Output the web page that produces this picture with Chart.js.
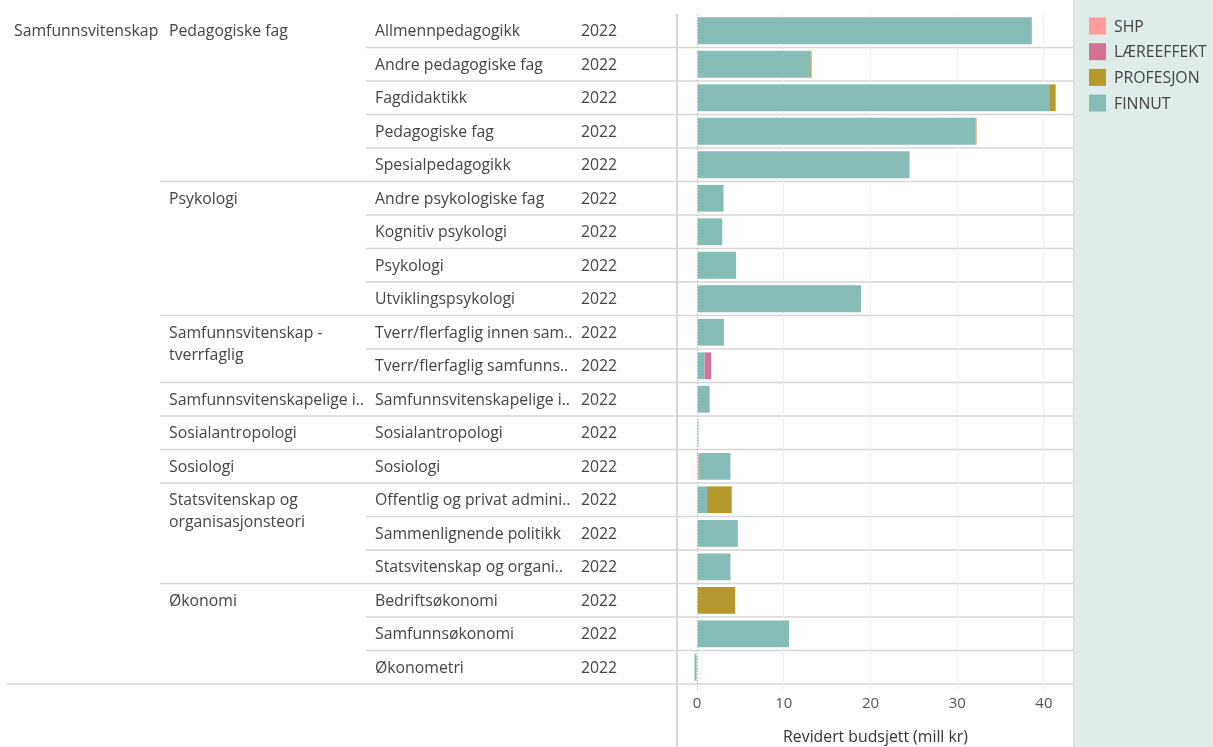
<!DOCTYPE html>
<html>
<head>
<meta charset="utf-8">
<script src="https://cdn.jsdelivr.net/npm/chart.js@4/dist/chart.umd.min.js"></script>
<style>
	html, body { margin: 0; padding: 0; background: #fff; }
	#wrap { position: relative; width: 1213px; height: 747px; }
</style>
</head>
<body>
<div id="wrap"><canvas id="c"></canvas></div>
<script>
const area = "Samfunnsvitenskap";
const year = "2022";

const fieldNames = [
	["Pedagogiske fag"],
	["Psykologi"],
	["Samfunnsvitenskap -", "tverrfaglig"],
	["Samfunnsvitenskapelige i.."],
	["Sosialantropologi"],
	["Sosiologi"],
	["Statsvitenskap og", "organisasjonsteori"],
	["Økonomi"]
];
const fieldSizes = [5, 4, 2, 1, 1, 1, 3, 3];

const subjects = [
	"Allmennpedagogikk",
	"Andre pedagogiske fag",
	"Fagdidaktikk",
	"Pedagogiske fag",
	"Spesialpedagogikk",
	"Andre psykologiske fag",
	"Kognitiv psykologi",
	"Psykologi",
	"Utviklingspsykologi",
	"Tverr/flerfaglig innen sam..",
	"Tverr/flerfaglig samfunns..",
	"Samfunnsvitenskapelige i..",
	"Sosialantropologi",
	"Sosiologi",
	"Offentlig og privat admini..",
	"Sammenlignende politikk",
	"Statsvitenskap og organi..",
	"Bedriftsøkonomi",
	"Samfunnsøkonomi",
	"Økonometri"
];

const shp =        [0, 0, 0, 0, 0, 0, 0, 0, 0, 0, 0, 0, 0, 0.15, 0, 0, 0, 0, 0, 0];
const finnut =     [38.6, 13.05, 40.6, 32.1, 24.5, 3.05, 2.9, 4.5, 18.9, 3.1, 0.85, 1.45, 0.15, 3.7, 1.15, 4.7, 3.85, 0, 10.6, -0.3];
const laereeffekt = [0, 0, 0, 0, 0, 0, 0, 0, 0, 0, 0.77, 0, 0, 0, 0, 0, 0, 0, 0, 0];
const profesjon =  [0, 0.15, 0.75, 0.12, 0, 0, 0, 0, 0, 0, 0, 0, 0, 0, 2.85, 0, 0, 4.4, 0, 0];

const xTicks = [0, 10, 20, 30, 40];

const colors = {
	SHP: "#ff9d9a",
	"LÆREEFFEKT": "#d37295",
	PROFESJON: "#b6992d",
	FINNUT: "#86bcb6"
};
const legendOrder = ["SHP", "LÆREEFFEKT", "PROFESJON", "FINNUT"];

const font = "'Open Sans', sans-serif";
const textColor = "#444";

function line(ctx, x1, y1, x2, y2) {
	ctx.beginPath();
	ctx.moveTo(x1, y1);
	ctx.lineTo(x2, y2);
	ctx.stroke();
}

const tablePlugin = {
	id: "table",
	beforeDraw(chart) {
		const { ctx, chartArea: a, scales: { y } } = chart;
		const rowH = (a.bottom - a.top) / subjects.length;
		ctx.save();

		// legend panel
		ctx.fillStyle = "#dfece9";
		ctx.fillRect(a.right, 0, chart.width - a.right, chart.height);

		// row separators
		const starts = [];
		let r = 0;
		fieldSizes.forEach(n => { starts.push(r); r += n; });
		ctx.strokeStyle = "#d6d6d6";
		ctx.lineWidth = 1.5;
		for (let i = 1; i < subjects.length; i++) {
			const yy = y.getPixelForValue(i) - rowH / 2;
			line(ctx, starts.includes(i) ? 160 : 366, yy, a.right, yy);
		}
		line(ctx, 7, a.bottom, a.right, a.bottom);

		ctx.strokeStyle = "#d6d6d6";
		ctx.lineWidth = 2;
		line(ctx, a.left - 1, a.top, a.left - 1, chart.height);
		ctx.lineWidth = 1;
		line(ctx, a.right + 0.5, 0, a.right + 0.5, chart.height);

		// text columns
		ctx.font = "15.8px " + font;
		ctx.fillStyle = textColor;
		ctx.textBaseline = "middle";
		ctx.textAlign = "left";
		ctx.fillText(area, 14, y.getPixelForValue(0) + 1);
		fieldNames.forEach((lines, g) => {
			const y0 = y.getPixelForValue(starts[g]) + 1;
			lines.forEach((t, k) => ctx.fillText(t, 169, y0 + k * 22));
		});
		subjects.forEach((s, i) => {
			const yy = y.getPixelForValue(i) + 1;
			ctx.fillText(s, 375, yy);
			ctx.fillText(year, 581, yy);
		});

		// legend
		legendOrder.forEach((name, i) => {
			const yy = 26 + i * 25.7;
			ctx.fillStyle = colors[name];
			ctx.fillRect(1089, yy - 8.5, 17, 17);
			ctx.fillStyle = textColor;
			ctx.fillText(name, 1114, yy + 1);
		});
		ctx.restore();
	},
	beforeDatasetsDraw(chart) {
		const { ctx, chartArea: a, scales: { x } } = chart;
		const x0 = Math.round(x.getPixelForValue(0)) + 0.5;
		ctx.save();
		ctx.strokeStyle = "#b0b0b0";
		ctx.lineWidth = 1;
		ctx.setLineDash([1, 2]);
		line(ctx, x0, a.top, x0, a.bottom + 8);
		ctx.restore();
	}
};

const series = [
	{ label: "SHP", data: shp },
	{ label: "FINNUT", data: finnut },
	{ label: "LÆREEFFEKT", data: laereeffekt },
	{ label: "PROFESJON", data: profesjon }
];

new Chart(document.getElementById("c"), {
	type: "bar",
	data: {
		labels: subjects,
		datasets: series.map(s => ({
			label: s.label,
			data: s.data,
			backgroundColor: colors[s.label],
			borderWidth: 0,
			barPercentage: 0.8,
			categoryPercentage: 1
		}))
	},
	options: {
		indexAxis: "y",
		responsive: true,
		maintainAspectRatio: false,
		animation: false,
		layout: {
			padding: { left: 678, right: 140, top: 14, bottom: 0 }
		},
		scales: {
			x: {
				stacked: true,
				min: -2.2,
				max: 43.35,
				afterBuildTicks: scale => {
					scale.ticks = xTicks.map(v => ({ value: v }));
				},
				grid: {
					color: c => (c.tick && c.tick.value === 0 ? "rgba(0,0,0,0)" : "#efefef"),
					tickLength: 6
				},
				border: { display: false },
				ticks: {
					color: "#555",
					font: { size: 15, family: font },
					padding: 5,
					maxRotation: 0
				},
				title: {
					display: true,
					text: "Revidert budsjett (mill kr)",
					color: "#333",
					font: { size: 15.8, family: font },
					padding: { top: 10, bottom: 0 }
				}
			},
			y: {
				stacked: true,
				display: false
			}
		},
		plugins: {
			legend: { display: false },
			tooltip: { enabled: false }
		}
	},
	plugins: [tablePlugin]
});
</script>
</body>
</html>
